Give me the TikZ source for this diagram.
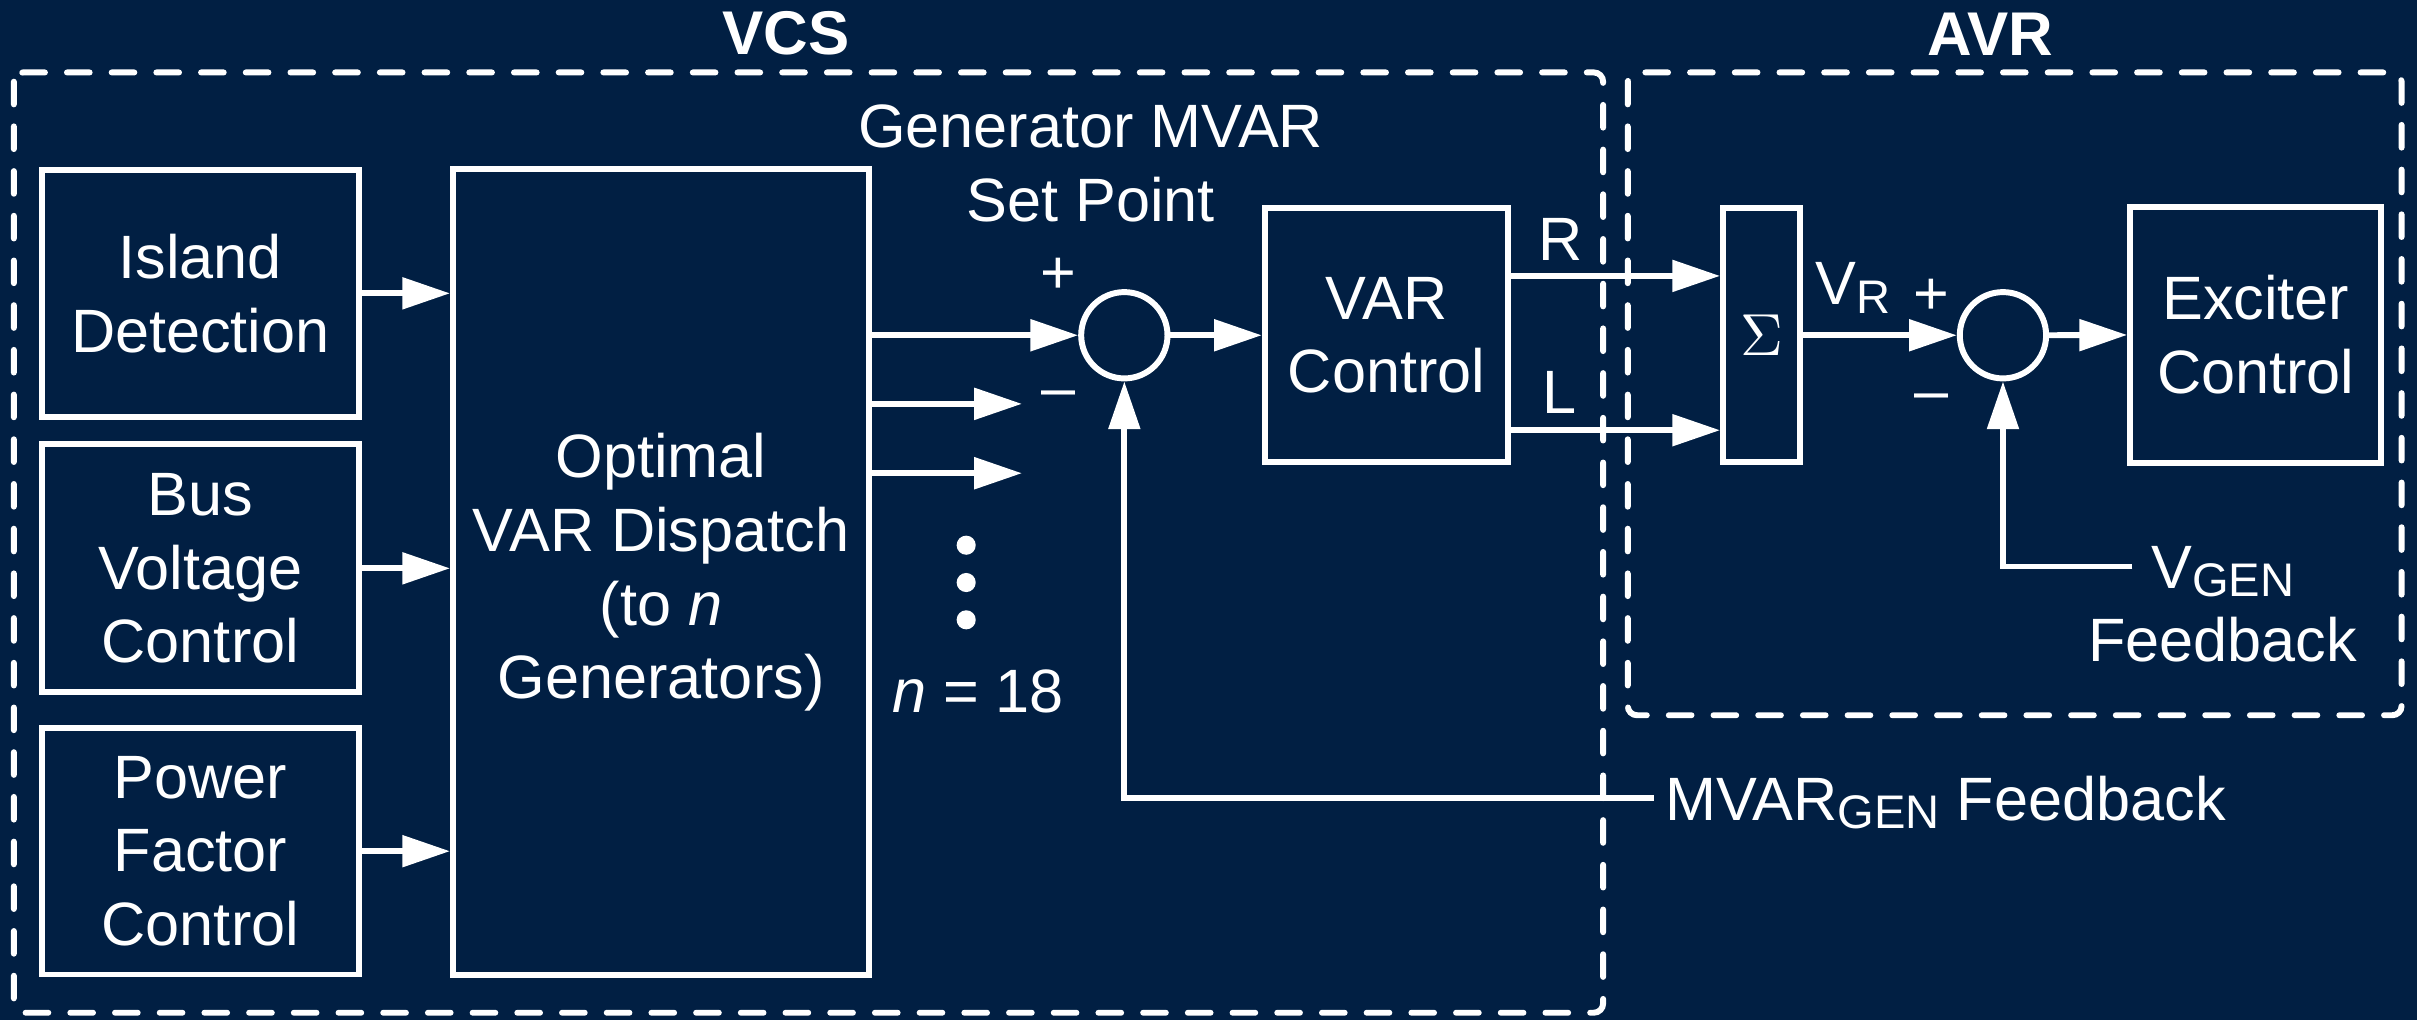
\documentclass[tikz,border=0pt]{standalone}
\usepackage{fontspec}
\setmainfont{Liberation Sans}
\usepackage{tikz}
\usetikzlibrary{shapes, arrows.meta, positioning, calc}
\definecolor{navy1}{RGB}{1, 31, 67}
\newcommand{\lowsub}[1]{\raisebox{-0.55mm}{\fontsize{8.7pt}{10pt}\selectfont #1}}

\begin{document}
\begin{tikzpicture}[x=0.1mm, y=-0.1mm,
  txt/.style={text=white, font=\fontsize{11.3pt}{13.6pt}\selectfont, inner sep=0pt, align=center},
  blk/.style={txt, draw=white, line width=1.1pt},
  sumpt/.style={circle, draw=white, line width=1.1pt, minimum size=5.6mm, inner sep=0pt},
  flow/.style={draw=white, line width=1.1pt, -{Triangle[length=3.1mm, width=2mm]}},
  grp/.style={draw=white, line width=1.1pt, line cap=round, dash pattern=on 1.47mm off 1.43mm, rounded corners=0.6mm}]

  \fill[navy1] (0,0) rectangle (1568,661.7);

  \draw[grp] (9,47) rectangle (1040,657);
  \draw[grp] (1056,47) rectangle (1558,464);
  \node[txt, font=\fontsize{11.4pt}{13.6pt}\selectfont\bfseries, anchor=base] (vcs) at (510,35.2) {VCS};
  \node[txt, font=\fontsize{11.4pt}{13.6pt}\selectfont\bfseries, anchor=base] (avr) at (1291,35.7) {AVR};

  \node[blk, minimum width=20.6mm, minimum height=16mm] (island) at (130,190.3) {Island\\Detection};
  \node[blk, minimum width=20.6mm, minimum height=16.1mm] (busv) at (130,368.7) {Bus\\Voltage\\Control};
  \node[blk, minimum width=20.6mm, minimum height=16mm] (pfc) at (130,552.2) {Power\\Factor\\Control};
  \node[blk, minimum width=27mm, minimum height=52.3mm] (optvar) at (428.9,371.3) {Optimal\\VAR Dispatch\\(to \textit{n}\\Generators)};

  \node[sumpt] (sum1) at (729.4,217.5) {};
  \node[blk, minimum width=15.8mm, minimum height=16.5mm] (varctl) at (899.5,217.5) {VAR\\Control};
  \node[blk, minimum width=5mm, minimum height=16.5mm] (sigma) at (1142.8,217.5) {$\Sigma$};
  \node[sumpt] (sum2) at (1299.4,217.5) {};
  \node[blk, minimum width=16.3mm, minimum height=16.6mm] (exciter) at (1463.4,217.3) {Exciter\\Control};

  \node[txt] (setpt) at (707.5,106) {Generator MVAR\\Set Point};
  \node[txt] (p1) at (686.8,178.7) {+};
  \node[txt] (m1) at (686.8,259) {–};
  \node[txt] (p2) at (1253.2,192.5) {+};
  \node[txt] (m2) at (1253.2,261) {–};
  \node[txt, anchor=base] (rlbl) at (1012.3,168.7) {R};
  \node[txt, anchor=base] (llbl) at (1012,268.3) {L};
  \node[txt, anchor=base west] (vr) at (1177,197.8) {V\lowsub{R}};
  \node[txt, anchor=base] (nlbl) at (634.5,462.2) {\textit{n} = 18};
  \node[txt] (vgen) at (1442,392) {V\lowsub{GEN}\\Feedback};
  \node[txt, anchor=base west] (mvar) at (1079.7,532) {MVAR\lowsub{GEN} Feedback};

  \coordinate (out2) at (663,262);
  \coordinate (out3) at (663,307);
  \coordinate (vfb) at (1383.4,367.5);
  \coordinate (mfb) at (1072.7,518);

  \draw[flow] (island.east) -- (island.east -| optvar.west);
  \draw[flow] (busv.east) -- (busv.east -| optvar.west);
  \draw[flow] (pfc.east) -- (pfc.east -| optvar.west);
  \draw[flow] (sum1.west -| optvar.east) -- (sum1.west);
  \draw[flow] (out2 -| optvar.east) -- (out2);
  \draw[flow] (out3 -| optvar.east) -- (out3);
  \foreach \y in {353.7, 377.9, 402.1}
    \fill[white] (626.8,\y) circle (0.62mm);
  \draw[flow] (sum1.east) -- (varctl.west);
  \draw[flow] ([yshift=3.85mm]varctl.east) -- ([yshift=3.85mm]varctl.east -| sigma.west);
  \draw[flow] ([yshift=-6.16mm]varctl.east) -- ([yshift=-6.16mm]varctl.east -| sigma.west);
  \draw[flow] (sigma.east) -- (sum2.west);
  \draw[flow] (sum2.east) -- (exciter.west);
  \draw[flow] (vfb) -| (sum2.south);
  \draw[flow] (mfb) -| (sum1.south);
\end{tikzpicture}
\end{document}
